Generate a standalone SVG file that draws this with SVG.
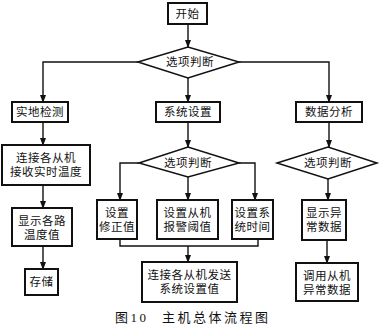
<svg xmlns="http://www.w3.org/2000/svg" width="380" height="326" viewBox="0 0 380 326">
<style>
.box{fill:#fff;stroke:#111;stroke-width:2}
.dia{fill:#fff;stroke:#111;stroke-width:1.5}
.ln{fill:none;stroke:#111;stroke-width:1.4}
text{font-family:"Liberation Serif","Noto Sans CJK SC",serif;font-size:11.5px;fill:#111;text-anchor:middle;dominant-baseline:central;letter-spacing:0.5px}
.cap{font-size:13px;letter-spacing:2.5px;text-anchor:start;dominant-baseline:auto}
</style>
<defs>
<marker id="ar" markerUnits="userSpaceOnUse" markerWidth="8" markerHeight="10" refX="7" refY="3" orient="auto">
<path d="M0,0 L8,3 L0,6 Z" fill="#111"/>
</marker>
</defs>
<g id="connectors">
<line class="ln" x1="188" y1="24" x2="188" y2="47" marker-end="url(#ar)"/>
<polyline class="ln" points="138,62 43,62 43,102" marker-end="url(#ar)"/>
<line class="ln" x1="188" y1="78" x2="188" y2="102" marker-end="url(#ar)"/>
<polyline class="ln" points="239,62 329,62 329,102" marker-end="url(#ar)"/>
<line class="ln" x1="43" y1="122" x2="43" y2="145" marker-end="url(#ar)"/>
<line class="ln" x1="43" y1="185" x2="43" y2="208" marker-end="url(#ar)"/>
<line class="ln" x1="43" y1="246" x2="43" y2="269" marker-end="url(#ar)"/>
<line class="ln" x1="188" y1="122" x2="188" y2="147" marker-end="url(#ar)"/>
<polyline class="ln" points="139,163 120,163 120,200" marker-end="url(#ar)"/>
<line class="ln" x1="188" y1="177" x2="188" y2="200" marker-end="url(#ar)"/>
<polyline class="ln" points="239,163 255,163 255,200" marker-end="url(#ar)"/>
<polyline class="ln" points="120,239 120,246 258,246 258,239"/>
<line class="ln" x1="188" y1="246" x2="188" y2="262" marker-end="url(#ar)"/>
<line class="ln" x1="329" y1="122" x2="329" y2="147" marker-end="url(#ar)"/>
<line class="ln" x1="328" y1="179" x2="328" y2="200" marker-end="url(#ar)"/>
<line class="ln" x1="327" y1="240" x2="327" y2="263" marker-end="url(#ar)"/>
</g>
<g id="start"><rect class="box" x="168" y="3" width="39" height="21"/><text x="187.5" y="13.5">开始</text></g>
<g id="d1"><polygon class="dia" points="138,62 188,47 239,62 188,78"/><text x="190" y="62">选项判断</text></g>
<g id="shidi"><rect class="box" x="12" y="102" width="56" height="20"/><text x="40" y="112">实地检测</text></g>
<g id="xitong"><rect class="box" x="156" y="102" width="64" height="20"/><text x="188" y="112">系统设置</text></g>
<g id="shuju"><rect class="box" x="296" y="102" width="66" height="20"/><text x="329" y="112">数据分析</text></g>
<g id="lianjie1"><rect class="box" x="2" y="145" width="88" height="40"/><text x="46" y="158">连接各从机</text><text x="46" y="172">接收实时温度</text></g>
<g id="xianshi"><rect class="box" x="12" y="208" width="60" height="38"/><text x="42" y="221">显示各路</text><text x="42" y="235">温度值</text></g>
<g id="cunchu"><rect class="box" x="25" y="269" width="33" height="26"/><text x="41.5" y="282">存储</text></g>
<g id="d2"><polygon class="dia" points="139,163 188,147 239,163 188,177"/><text x="188" y="163">选项判断</text></g>
<g id="xiuzheng"><rect class="box" x="97" y="200" width="40" height="39"/><text x="117" y="213">设置</text><text x="117" y="227">修正值</text></g>
<g id="baojing"><rect class="box" x="157" y="200" width="61" height="39"/><text x="187.5" y="213">设置从机</text><text x="187.5" y="227">报警阈值</text></g>
<g id="shijian"><rect class="box" x="232" y="200" width="41" height="39"/><text x="252.5" y="213">设置系</text><text x="252.5" y="227">统时间</text></g>
<g id="fasong"><rect class="box" x="142" y="262" width="95" height="40"/><text x="189.5" y="275">连接各从机发送</text><text x="189.5" y="289">系统设置值</text></g>
<g id="d3"><polygon class="dia" points="277,163 328,147 377,163 328,179"/><text x="328" y="163">选项判断</text></g>
<g id="yichang"><rect class="box" x="302" y="200" width="44" height="40"/><text x="324" y="213">显示异</text><text x="324" y="227">常数据</text></g>
<g id="diaoyong"><rect class="box" x="296" y="263" width="62" height="38"/><text x="327" y="276">调用从机</text><text x="327" y="290">异常数据</text></g>
<text class="cap" x="115" y="322">图10</text>
<text class="cap" x="162" y="322">主机总体流程图</text>
</svg>
